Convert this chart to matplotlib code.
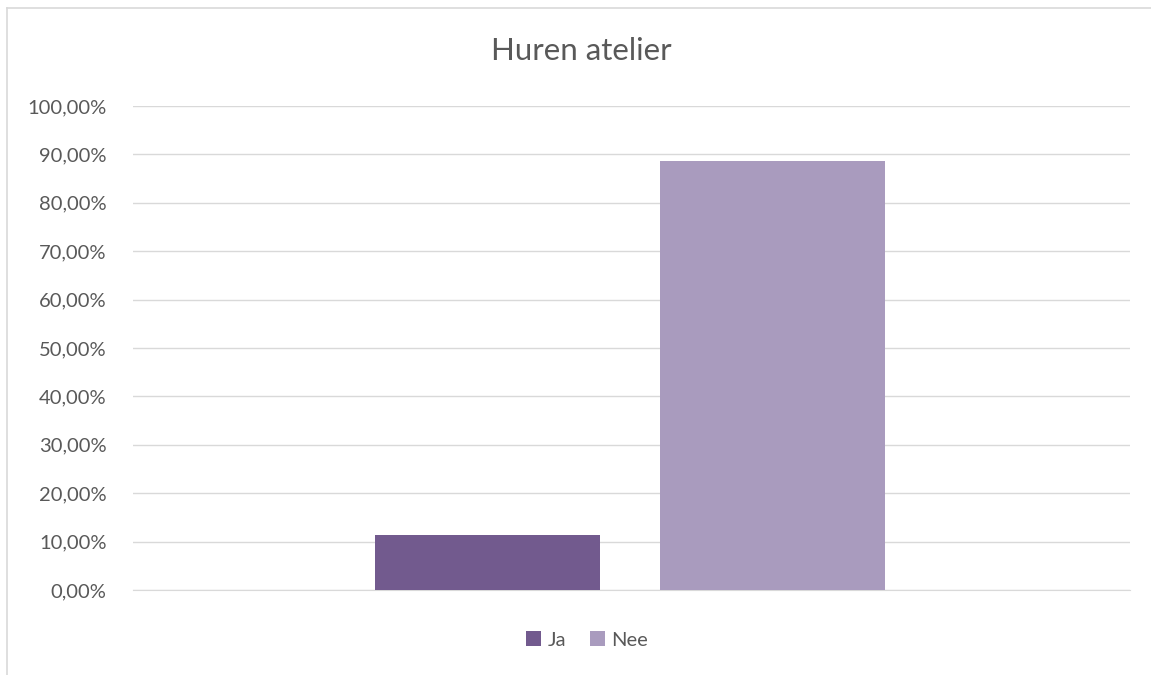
import numpy as np
import matplotlib
matplotlib.use("Agg")
import matplotlib.pyplot as plt
from matplotlib.lines import Line2D
from matplotlib.ticker import FuncFormatter

# Data
series = ["Ja", "Nee"]
values = [0.1136, 0.8864]
colors = ["#725a8e", "#a99bbe"]
title = "Huren atelier"

plt.rcParams["font.family"] = ["Lato", "DejaVu Sans"]

fig = plt.figure(figsize=(11.51, 6.75), dpi=100)
ax = fig.add_axes([0.1156, 0.1259, 0.8661, 0.7171])

# chart border: only the top and left edges fall inside the image
fig.lines.append(Line2D([6.5 / 1151, 1.0], [1 - 7.5 / 675, 1 - 7.5 / 675],
                        transform=fig.transFigure, color="#d9d9d9", linewidth=1.2))
fig.lines.append(Line2D([6.5 / 1151, 6.5 / 1151], [0.0, 1 - 7.5 / 675],
                        transform=fig.transFigure, color="#d9d9d9", linewidth=1.2))

x = np.arange(len(series))
for i in range(len(series)):
    ax.bar(x[i], values[i], width=0.79, color=colors[i], label=series[i], zorder=3)

ax.set_xlim(-1.244, 2.254)
ax.set_ylim(0, 1)
ax.set_yticks(np.linspace(0, 1, 11))
ax.yaxis.set_major_formatter(FuncFormatter(lambda v, p: f"{v * 100:.2f}%".replace(".", ",")))
ax.set_xticks([])
ax.grid(axis="y", color="#d9d9d9", linewidth=1, zorder=0)
for s in ["top", "right", "left"]:
    ax.spines[s].set_visible(False)
ax.spines["bottom"].set_color("#d9d9d9")
ax.tick_params(axis="y", length=0, labelsize=14.5, colors="#595959", pad=19)

fig.text(581 / 1151, 1 - 51 / 675, title, ha="center", va="center", fontsize=22.5, color="#595959")

ax.legend(loc="center", bbox_to_anchor=(587 / 1151, 1 - 640 / 675), bbox_transform=fig.transFigure,
          ncol=2, frameon=False, fontsize=14.5, labelcolor="#595959",
          handlelength=0.75, handleheight=0.75, handletextpad=0.3, columnspacing=1.2)

fig.savefig("out.png", dpi=100)
